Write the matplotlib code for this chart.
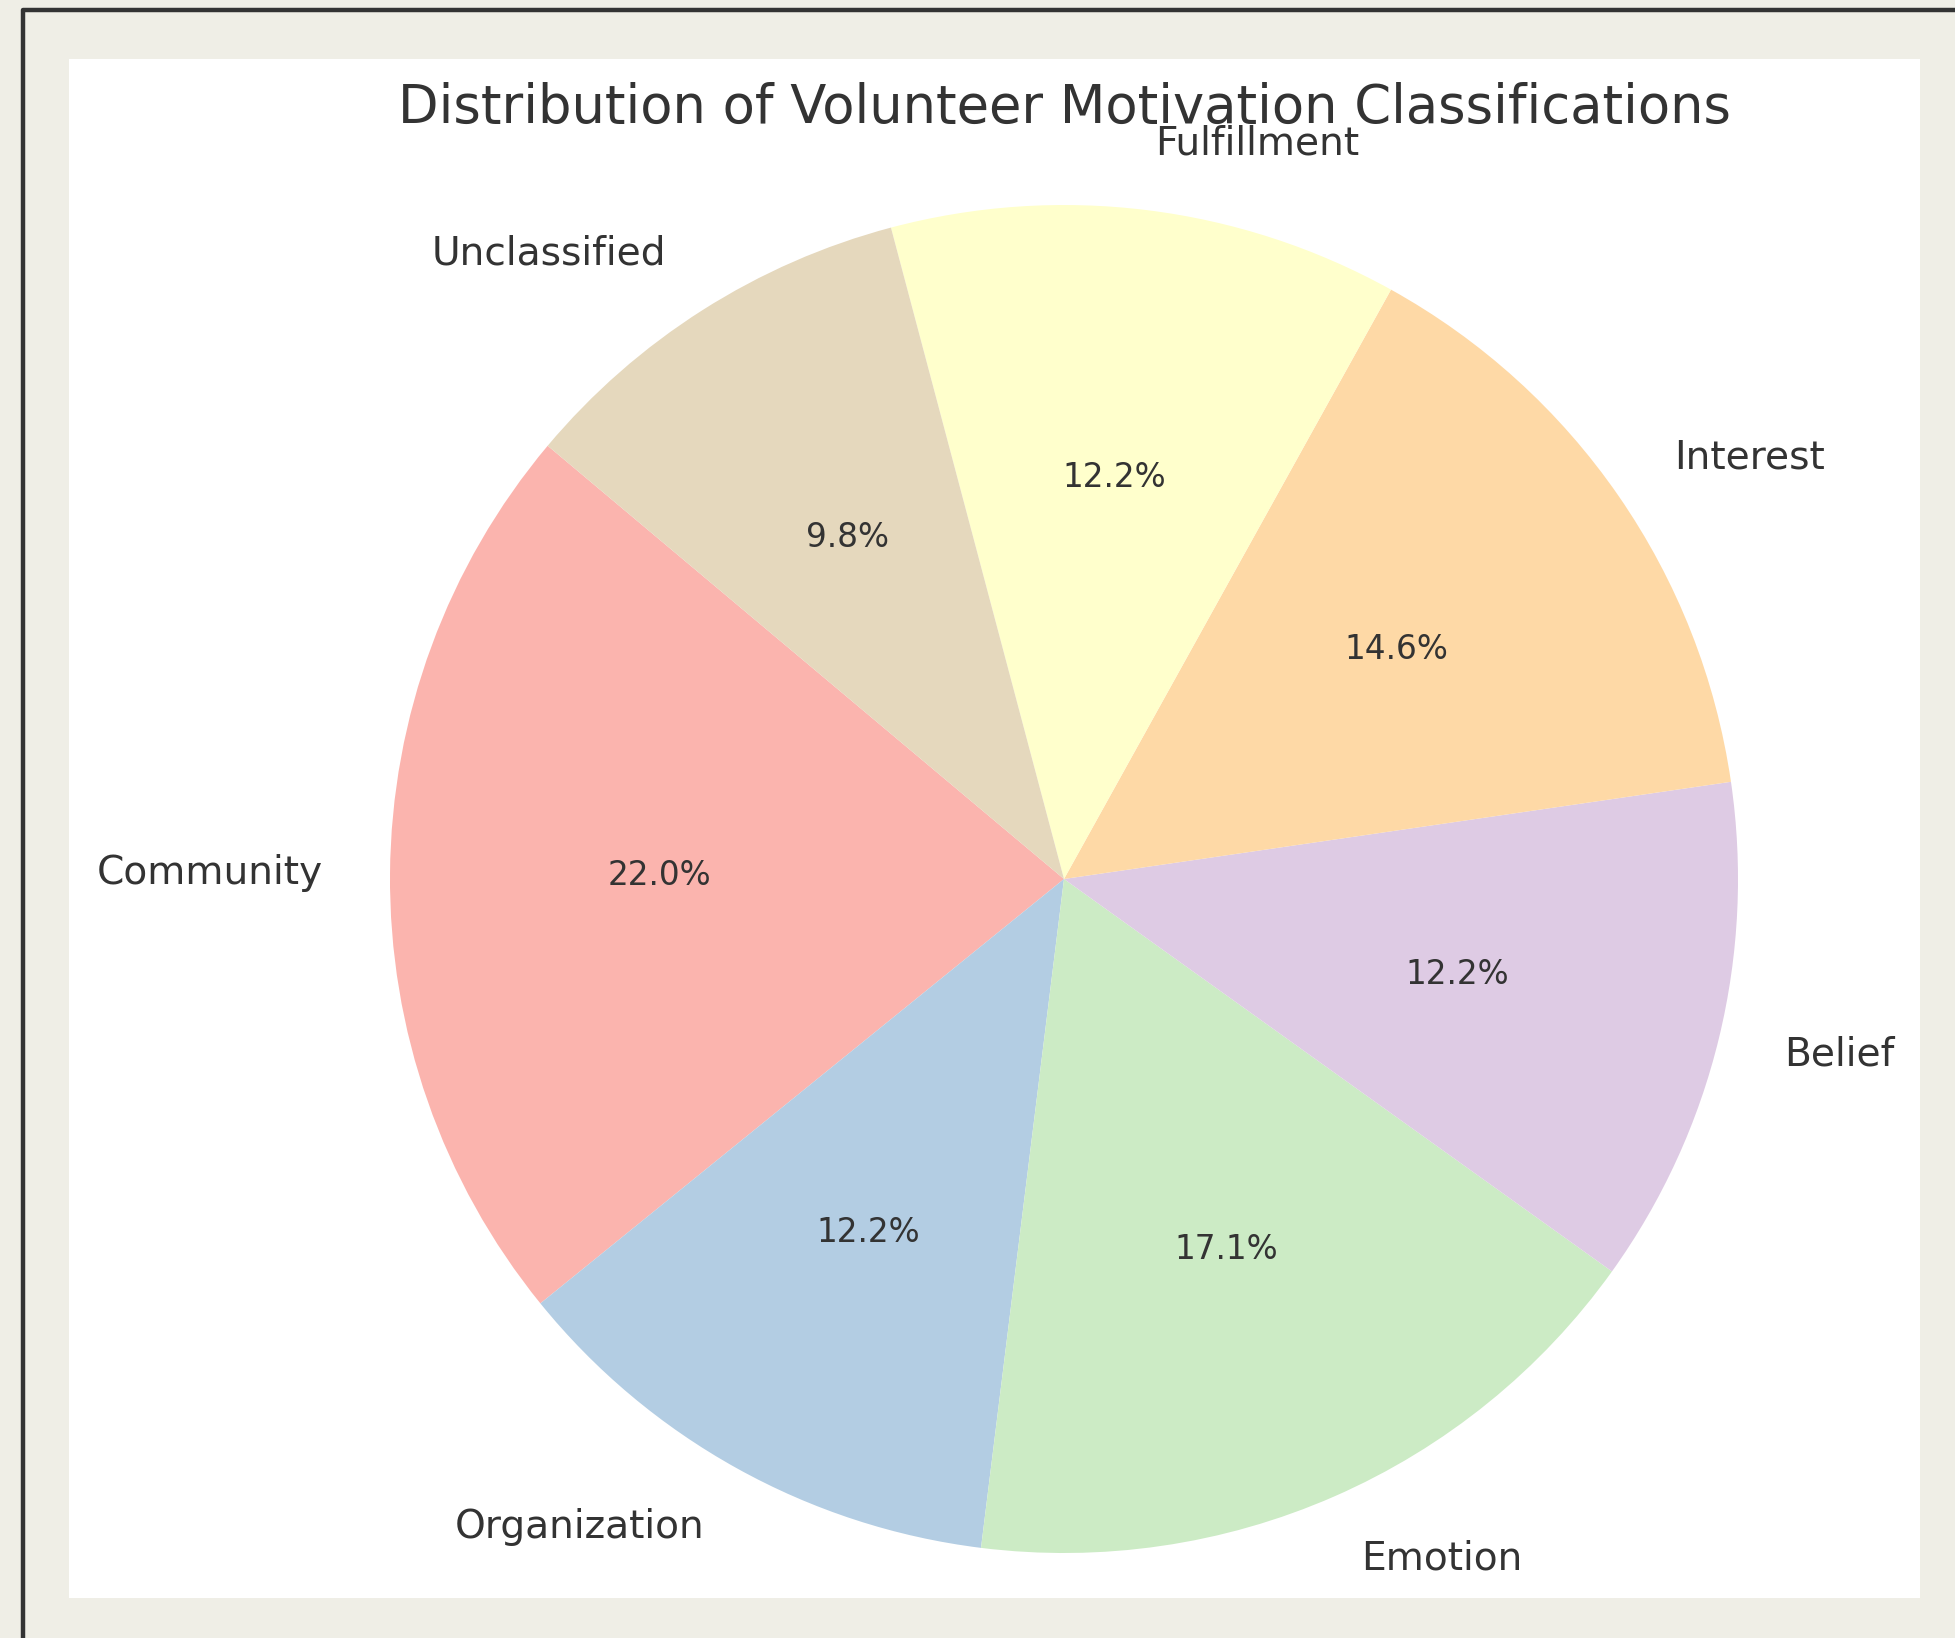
import matplotlib
matplotlib.use('Agg')
import matplotlib.pyplot as plt
from matplotlib.patches import Rectangle
from matplotlib.lines import Line2D

# data
labels = ['Community', 'Organization', 'Emotion', 'Belief', 'Interest', 'Fulfillment', 'Unclassified']
counts = [9, 5, 7, 5, 6, 5, 4]
colors = ['#fbb4ae', '#b3cde3', '#ccebc5', '#decbe4', '#fed9a6', '#ffffcc', '#e5d8bd']
title = 'Distribution of Volunteer Motivation Classifications'

W, H = 1956, 1638
fig = plt.figure(figsize=(W / 200, H / 200), dpi=200, facecolor='#efeee6')

# white panel and the dark frame on left/top
fig.patches.append(Rectangle((69 / W, 1 - 1598 / H), (1920 - 69) / W, (1598 - 59) / H,
                             transform=fig.transFigure, facecolor='white', edgecolor='none', zorder=-10))
fig.lines.append(Line2D([23 / W, 23 / W, 1.0], [0.0, 1 - 10 / H, 1 - 10 / H],
                        transform=fig.transFigure, color='#333333', lw=1.6, zorder=-5))

# square axes centred on the pie
cx, cy, r = 1064, 879, 674
half = 1.1 * r
ax = fig.add_axes([(cx - half) / W, (H - cy - half) / H, 2 * half / W, 2 * half / H])
ax.set_zorder(1)
ax.patch.set_alpha(0)

wedges, texts, autotexts = ax.pie(counts, labels=labels, colors=colors, startangle=140,
                                  autopct='%1.1f%%', pctdistance=0.6, labeldistance=1.1,
                                  textprops={'fontsize': 14.1, 'color': '#333333'})
for t in autotexts:
    t.set_fontsize(11.8)
ax.set_xlim(-1.1, 1.1)
ax.set_ylim(-1.1, 1.1)

fig.text(cx / W, 1 - 123 / H, title, ha='center', va='baseline', fontsize=19, color='#333333',
         zorder=2)

fig.savefig('out.png', dpi=200, facecolor=fig.get_facecolor())
